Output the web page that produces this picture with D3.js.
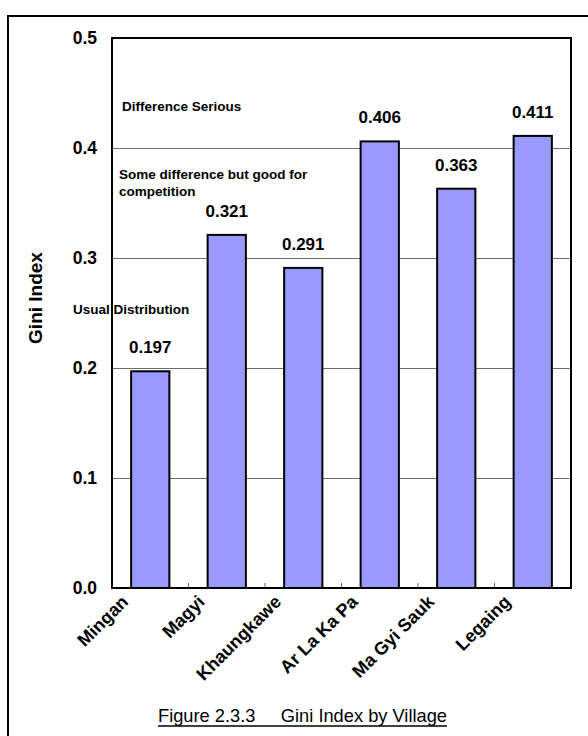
<!DOCTYPE html>
<html>
<head>
<meta charset="utf-8">
<script src="https://cdn.jsdelivr.net/npm/d3@7/dist/d3.min.js"></script>
<style>
  html, body { margin: 0; padding: 0; background: #fff; }
  svg { display: block; }
  text { font-family: "Liberation Sans", Arial, sans-serif; }
</style>
</head>
<body>
<script>
// Gini index per village
const villages = ["Mingan", "Magyi", "Khaungkawe", "Ar La Ka Pa", "Ma Gyi Sauk", "Legaing"];
const giniValues = [0.197, 0.321, 0.291, 0.406, 0.363, 0.411];
const yTicks = [0.0, 0.1, 0.2, 0.3, 0.4, 0.5];
const yTickLabels = ["0.0", "0.1", "0.2", "0.3", "0.4", "0.5"];
// Interpretation bands written inside the plot (baseline placed at a Gini level)
const noteLines = [["Difference Serious"], ["Some difference but good for", "competition"], ["Usual Distribution"]];
const noteLevels = [0.4336, 0.3718, 0.249];
const captionNumber = "Figure 2.3.3";
const captionTitle = "Gini Index by Village";
const yTitle = "Gini Index";

const W = 588, H = 736;
const plot = { left: 112, right: 571, top: 38, bottom: 588 };
const noteX = [122, 119, 73];

const svg = d3.select("body").append("svg")
  .attr("width", W).attr("height", H);

// outer frame around the figure
svg.append("rect")
  .attr("x", 8).attr("y", 16)
  .attr("width", W + 20).attr("height", H + 20)
  .attr("fill", "none").attr("stroke", "#000").attr("stroke-width", 2);

const x = d3.scaleBand().domain(villages)
  .range([plot.left, plot.right]).paddingInner(0.5).paddingOuter(0.25);
const xb = d3.scaleBand().domain(villages).range([plot.left, plot.right]);
const y = d3.scaleLinear().domain([0, 0.5]).range([plot.bottom, plot.top]);

// horizontal gridlines
svg.append("g")
  .attr("transform", `translate(${plot.left},0)`)
  .call(d3.axisLeft(y).tickValues(yTicks.slice(1, -1))
    .tickSize(-(plot.right - plot.left)).tickFormat(""))
  .call(g => g.select(".domain").remove())
  .call(g => g.selectAll("line").attr("stroke", "#6e6e6e").attr("stroke-width", 1));

// y tick labels
svg.append("g")
  .attr("transform", `translate(${plot.left},0)`)
  .call(d3.axisLeft(y).tickValues(yTicks).tickSize(0).tickPadding(15)
    .tickFormat((d, i) => yTickLabels[i]))
  .call(g => g.select(".domain").remove())
  .call(g => g.selectAll("text")
    .attr("font-family", "'Liberation Sans', Arial, sans-serif")
    .attr("font-size", 17.5).attr("font-weight", "bold").attr("fill", "#000"));

// small inward ticks between categories
const boundaries = villages.slice(1).map(v => xb(v));
svg.append("g").selectAll("line").data(boundaries).join("line")
  .attr("x1", d => d).attr("x2", d => d)
  .attr("y1", plot.bottom).attr("y2", plot.bottom - 5)
  .attr("stroke", "#6e6e6e").attr("stroke-width", 1);

// bars
svg.append("g").selectAll("rect").data(giniValues).join("rect")
  .attr("x", (d, i) => x(villages[i]))
  .attr("y", d => y(d))
  .attr("width", x.bandwidth())
  .attr("height", d => y(0) - y(d))
  .attr("fill", "#9999ff")
  .attr("stroke", "#000").attr("stroke-width", 2);

// value labels
svg.append("g").selectAll("text").data(giniValues).join("text")
  .attr("x", (d, i) => x(villages[i]) + x.bandwidth() / 2)
  .attr("y", d => y(d) - 18)
  .attr("text-anchor", "middle")
  .attr("font-size", 17).attr("font-weight", "bold")
  .text(d => d.toFixed(3));

// interpretation notes
noteLines.forEach((lines, k) => {
  const t = svg.append("text")
    .attr("x", noteX[k]).attr("y", y(noteLevels[k]))
    .attr("font-size", 13.5).attr("font-weight", "bold");
  lines.forEach((line, i) => {
    t.append("tspan").attr("x", noteX[k]).attr("dy", i === 0 ? 0 : 17).text(line);
  });
});

// plot frame
svg.append("rect")
  .attr("x", plot.left).attr("y", plot.top)
  .attr("width", plot.right - plot.left).attr("height", plot.bottom - plot.top)
  .attr("fill", "none").attr("stroke", "#000").attr("stroke-width", 2);

// category labels, rotated
svg.append("g").selectAll("text").data(villages).join("text")
  .attr("transform", v => `translate(${xb(v) + xb.bandwidth() / 2 - 21},${plot.bottom + 15}) rotate(-45)`)
  .attr("text-anchor", "end")
  .attr("font-size", 18).attr("font-weight", "bold")
  .text(v => v);

// y axis title
svg.append("text")
  .attr("transform", `translate(42,${(y(0.3) + y(0.2)) / 2 - 15}) rotate(-90)`)
  .attr("text-anchor", "middle")
  .attr("font-size", 19).attr("font-weight", "bold")
  .text(yTitle);

// caption
svg.append("text")
  .attr("x", 158).attr("y", 722)
  .attr("font-size", 19)
  .attr("textLength", 289).attr("lengthAdjust", "spacingAndGlyphs")
  .text(captionNumber + "\u00a0\u00a0\u00a0\u00a0 " + captionTitle);
svg.append("line")
  .attr("x1", 158).attr("x2", 447).attr("y1", 726).attr("y2", 726)
  .attr("stroke", "#000").attr("stroke-width", 1.5);
</script>
</body>
</html>
